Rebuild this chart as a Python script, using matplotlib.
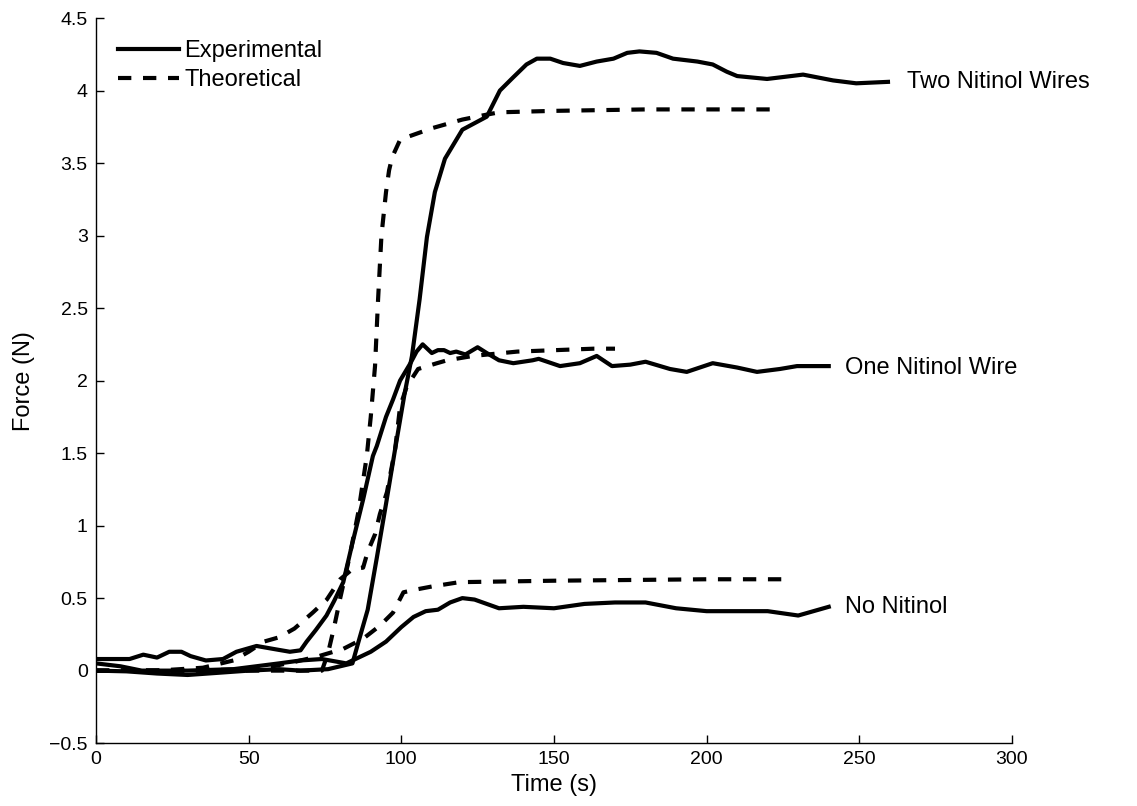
import matplotlib.pyplot as plt
import numpy as np

plt.rcParams["font.family"] = ["Liberation Sans", "DejaVu Sans"]

# ---------------- data ----------------
# Two Nitinol Wires, experimental
t_two_exp = [0, 10, 20, 30, 40, 50, 60, 67, 76, 80, 84, 86, 89, 92, 95, 98,
             101, 103.5, 106, 108.4, 111, 114.3, 120, 128, 132.3, 136.6, 141,
             144.4, 148.8, 153, 158.5, 164, 169.5, 174, 178, 183.6, 189, 197,
             202, 206.6, 210, 219.8, 231.6, 241.4, 249, 259.4]
f_two_exp = [0.0, -0.005, -0.02, -0.03, -0.015, 0.0, 0.01, 0.0, 0.01, 0.03,
             0.05, 0.2, 0.42, 0.78, 1.15, 1.53, 1.9, 2.17, 2.56, 2.99, 3.3,
             3.53, 3.73, 3.82, 4.0, 4.09, 4.18, 4.22, 4.22, 4.19, 4.17, 4.2,
             4.22, 4.26, 4.27, 4.26, 4.22, 4.2, 4.18, 4.13, 4.1, 4.08, 4.11,
             4.07, 4.05, 4.06]

# Two Nitinol Wires, theoretical
t_two_th = [0, 30, 50, 70, 74, 76, 78, 80, 83, 86, 88.7, 90, 91.4, 92.4, 93.5,
            95, 96, 97, 99.6, 102, 106, 110, 115, 120, 127, 132, 150, 180, 223]
f_two_th = [0.0, 0.0, 0.0, 0.0, 0.0, 0.12, 0.3, 0.5, 0.78, 1.1, 1.48, 1.75,
            2.1, 2.56, 3.0, 3.3, 3.45, 3.54, 3.66, 3.68, 3.71, 3.74, 3.77,
            3.8, 3.83, 3.85, 3.86, 3.87, 3.87]

# One Nitinol Wire, experimental
t_one_exp = [0, 5, 11, 15.5, 20, 24, 28, 31, 36, 41.6, 46, 52.6, 58, 63.5, 67,
             69, 72, 75.5, 78, 81, 84, 87.5, 90.7, 92, 95, 97.3, 99.6, 103,
             105, 107, 110, 112, 114, 116, 118, 121, 125, 128, 132, 136.7,
             143, 145, 152, 158.5, 164, 169, 175, 180, 188, 193.5, 202, 210,
             216.5, 224, 229.6, 240]
f_one_exp = [0.08, 0.08, 0.08, 0.11, 0.09, 0.13, 0.13, 0.1, 0.07, 0.08, 0.13,
             0.17, 0.15, 0.13, 0.14, 0.2, 0.28, 0.38, 0.48, 0.61, 0.88, 1.18,
             1.48, 1.55, 1.75, 1.87, 2.0, 2.12, 2.2, 2.25, 2.19, 2.21, 2.21,
             2.19, 2.2, 2.18, 2.23, 2.19, 2.14, 2.12, 2.14, 2.15, 2.1, 2.12,
             2.17, 2.1, 2.11, 2.13, 2.08, 2.06, 2.12, 2.09, 2.06, 2.08, 2.1,
             2.1]

# One Nitinol Wire, theoretical
t_one_th = [0, 20, 35, 45, 50, 55, 60, 65, 71, 75.6, 80, 84, 87.5, 89, 91.4,
            93, 95.3, 98, 99.6, 101.8, 105.5, 111.7, 115, 123.5, 138, 163,
            170]
f_one_th = [0.0, 0.0, 0.02, 0.07, 0.13, 0.2, 0.23, 0.29, 0.4, 0.49, 0.63, 0.7,
            0.71, 0.82, 0.94, 1.08, 1.23, 1.53, 1.82, 1.96, 2.08, 2.12, 2.14,
            2.17, 2.2, 2.22, 2.22]

# No Nitinol, experimental
t_no_exp = [0, 8, 15, 30, 45, 60, 67, 74, 82, 85, 90, 95, 100, 104, 108, 112,
            116, 120, 124, 128, 132, 140, 150, 160, 170, 180, 190, 200, 210,
            220, 230, 235, 240]
f_no_exp = [0.05, 0.03, 0.0, 0.0, 0.01, 0.05, 0.07, 0.08, 0.05, 0.08, 0.13,
            0.2, 0.3, 0.37, 0.41, 0.42, 0.47, 0.5, 0.49, 0.46, 0.43, 0.44,
            0.43, 0.46, 0.47, 0.47, 0.43, 0.41, 0.41, 0.41, 0.38, 0.41, 0.44]

# No Nitinol, theoretical
t_no_th = [0, 30, 50, 58, 65, 73, 81, 87.5, 93, 97.3, 100.7, 105, 110, 119,
           150, 200, 225]
f_no_th = [0.0, 0.0, 0.01, 0.03, 0.06, 0.1, 0.15, 0.22, 0.31, 0.4, 0.54, 0.56,
           0.58, 0.61, 0.62, 0.63, 0.63]

curve_labels = ["Two Nitinol Wires", "One Nitinol Wire", "No Nitinol"]
label_x = [265.5, 245.3, 245.3]
label_y = [4.06, 2.09, 0.44]

x_ticks = [0, 50, 100, 150, 200, 250, 300]
y_ticks = [-0.5, 0, 0.5, 1, 1.5, 2, 2.5, 3, 3.5, 4, 4.5]
y_tick_labels = ["\u22120.5", "0", "0.5", "1", "1.5", "2", "2.5", "3", "3.5",
                 "4", "4.5"]

# ---------------- plot ----------------
fig = plt.figure(figsize=(11.37, 8.06), dpi=100)
ax = fig.add_axes([0.0844, 0.078, 0.8056, 0.8996])

lw = 3
dash = (3.2, 2.8)
ax.plot(t_two_exp, f_two_exp, "k-", lw=lw, label="Experimental")
ax.plot(t_two_th, f_two_th, "k--", lw=lw, dashes=dash, label="Theoretical")
ax.plot(t_one_exp, f_one_exp, "k-", lw=lw)
ax.plot(t_one_th, f_one_th, "k--", lw=lw, dashes=dash)
ax.plot(t_no_exp, f_no_exp, "k-", lw=lw)
ax.plot(t_no_th, f_no_th, "k--", lw=lw, dashes=dash)

for txt, lx, ly in zip(curve_labels, label_x, label_y):
    ax.text(lx, ly, txt, fontsize=17, va="center", ha="left")

ax.set_xlim(0, 300)
ax.set_ylim(-0.5, 4.5)
ax.set_xticks(x_ticks)
ax.set_xticklabels([str(v) for v in x_ticks])
ax.set_yticks(y_ticks)
ax.set_yticklabels(y_tick_labels)
ax.tick_params(direction="in", length=6, width=1, labelsize=14, pad=6)
ax.spines["top"].set_visible(False)
ax.spines["right"].set_visible(False)
for s in ("left", "bottom"):
    ax.spines[s].set_linewidth(1)

ax.set_xlabel("Time (s)", fontsize=17, labelpad=4)
ax.set_ylabel("Force (N)", fontsize=17, labelpad=10)

ax.legend(loc="upper left", bbox_to_anchor=(0.024, 0.97), frameon=False,
          fontsize=17, borderpad=0, borderaxespad=0, handlelength=2.6,
          handletextpad=0.2, labelspacing=0.3)

fig.savefig("out.png", dpi=100)
